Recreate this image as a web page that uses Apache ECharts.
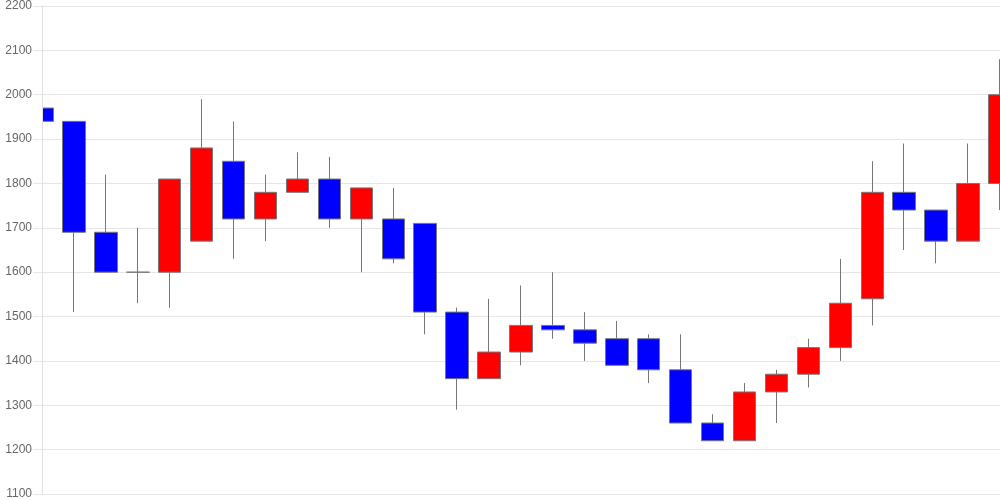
<!DOCTYPE html>
<html>
<head>
<meta charset="utf-8">
<script src="https://cdn.jsdelivr.net/npm/echarts@6/dist/echarts.min.js"></script>
<style>html,body{margin:0;padding:0;background:#fff;}#c{width:1000px;height:500px;}</style>
</head>
<body>
<div id="c"></div>
<script>
const categories = ['1','2','3','4','5','6','7','8','9','10','11','12','13','14','15','16','17','18','19','20','21','22','23','24','25','26','27','28','29','30','31'];
const openValues  = [1970,1940,1690,1600,1600,1670,1850,1720,1780,1810,1720,1720,1710,1510,1360,1420,1480,1470,1450,1450,1380,1260,1220,1330,1370,1430,1540,1780,1740,1670,1800];
const closeValues = [1940,1690,1600,1600,1810,1880,1720,1780,1810,1720,1790,1630,1510,1360,1420,1480,1470,1440,1390,1380,1260,1220,1330,1370,1430,1530,1780,1740,1670,1800,2000];
const lowValues   = [1880,1510,1600,1530,1520,1670,1630,1670,1780,1700,1600,1620,1460,1290,1360,1390,1450,1400,1390,1350,1260,1220,1220,1260,1340,1400,1480,1650,1620,1670,1740];
const highValues  = [2040,1940,1820,1700,1810,1990,1940,1820,1870,1860,1790,1790,1710,1520,1540,1570,1600,1510,1490,1460,1460,1280,1350,1380,1450,1630,1850,1890,1740,1890,2080];
const yTicks = { min: 1100, max: 2200, step: 100 };

const data = categories.map((c, i) => [openValues[i], closeValues[i], lowValues[i], highValues[i]]);

const chart = echarts.init(document.getElementById('c'), null, { renderer: 'canvas' });
chart.setOption({
  animation: false,
  backgroundColor: '#fff',
  grid: { left: 42, right: 0, top: 6, bottom: 6, containLabel: false },
  // white mask left of the plot area so the first candle is cut at the axis
  graphic: [{
    type: 'rect',
    left: 0, top: 0,
    shape: { width: 42, height: 500 },
    style: { fill: '#fff' },
    z: 50
  }],
  xAxis: {
    type: 'category',
    data: categories,
    boundaryGap: false,
    axisLine: { show: false },
    axisTick: { show: false },
    axisLabel: { show: false },
    splitLine: { show: false }
  },
  yAxis: [{
    type: 'value',
    z: 0,
    min: yTicks.min,
    max: yTicks.max,
    interval: yTicks.step,
    axisLine: { show: false },
    axisTick: { show: false },
    axisLabel: { show: false },
    splitLine: { show: true, lineStyle: { color: '#e6e6e6', width: 1 } }
  }, {
    type: 'value',
    position: 'left',
    z: 100,
    min: yTicks.min,
    max: yTicks.max,
    interval: yTicks.step,
    axisLine: { show: true, lineStyle: { color: '#e0e0e0', width: 1 } },
    axisTick: { show: true, length: 9, lineStyle: { color: '#e6e6e6', width: 1 } },
    axisLabel: { color: '#666', fontSize: 12, fontFamily: 'Liberation Sans, Arial, sans-serif', margin: 10, formatter: v => String(v) },
    splitLine: { show: false }
  }],
  series: [{
    type: 'candlestick',
    yAxisIndex: 0,
    data: data,
    barWidth: 23,
    clip: true,
    itemStyle: {
      color: '#ff0000',
      color0: '#0000ff',
      borderColor: '#777',
      borderColor0: '#777',
      borderWidth: 1
    }
  }]
});
</script>
</body>
</html>
